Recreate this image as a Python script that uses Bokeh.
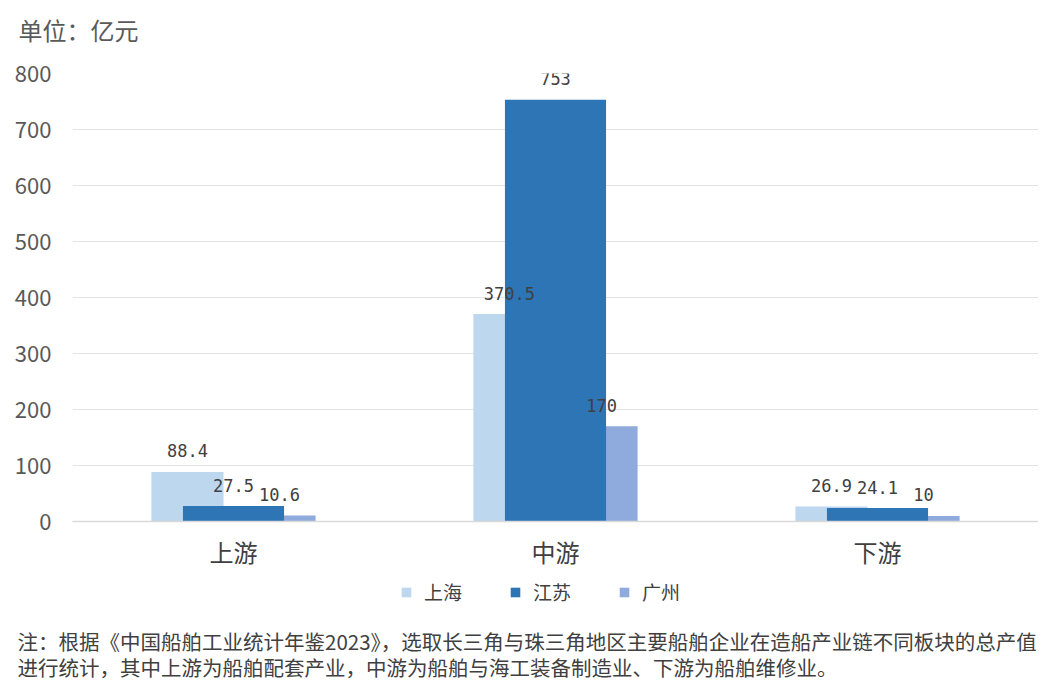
from bokeh.plotting import figure
from bokeh.models import (ColumnDataSource, FactorRange, Range1d, Legend, LegendItem,
                          FixedTicker, Label)
from bokeh.layouts import column
from bokeh.transform import dodge
from bokeh.core.properties import value
from bokeh.embed import file_html
from bokeh.resources import INLINE

# ---- data ----
categories = ["上游", "中游", "下游"]
series_names = ["上海", "江苏", "广州"]
shanghai = [88.4, 370.5, 26.9]
jiangsu = [27.5, 753, 24.1]
guangzhou = [10.6, 170, 10]
y_ticks = [0, 100, 200, 300, 400, 500, 600, 700, 800]
unit_text = "单位：亿元"
note_line1 = "注：根据《中国船舶工业统计年鉴2023》，选取长三角与珠三角地区主要船舶企业在造船产业链不同板块的总产值"
note_line2 = "进行统计，其中上游为船舶配套产业，中游为船舶与海工装备制造业、下游为船舶维修业。"

colors = ["#BDD7EE", "#2E75B6", "#8FAADC"]
FONT = "Noto Sans CJK SC"
W = 1038
LEFT = 72
HEAD_H = 55
MAIN_H = 516
FOOT_H = 115


def fmt(v):
    return f"{v:g}"


def no_align(fig):
    if "frame_align" in fig.properties():
        fig.frame_align = False


def blank(h):
    # full-canvas frame: x data units equal page pixels
    fig = figure(width=W, height=h, x_range=Range1d(0, W), y_range=Range1d(0, h),
                 output_backend="svg", toolbar_location=None,
                 x_axis_location=None, y_axis_location=None,
                 min_border=0, min_border_left=0, min_border_right=0,
                 min_border_top=0, min_border_bottom=0)
    fig.grid.visible = False
    fig.outline_line_color = None
    fig.background_fill_color = "white"
    fig.border_fill_color = "white"
    no_align(fig)
    return fig


# ---- header ----
head = blank(HEAD_H)
head.add_layout(Label(x=18, y=HEAD_H - 29, text=unit_text, text_font=FONT,
                      text_font_size="24px", text_color="#595959",
                      text_baseline="middle", text_align="left"))

# ---- main chart ----
src = ColumnDataSource(dict(
    cat=categories,
    sh=shanghai, js=jiangsu, gz=guangzhou,
    sh_t=[fmt(v) for v in shanghai],
    js_t=[fmt(v) for v in jiangsu],
    gz_t=[fmt(v) for v in guangzhou],
))

p = figure(
    width=W, height=MAIN_H,
    x_range=FactorRange(*categories, range_padding=0),
    y_range=Range1d(0, 800),
    output_backend="svg", toolbar_location=None,
    min_border_left=LEFT, min_border_right=0, min_border_top=18, min_border_bottom=50,
)
no_align(p)
p.outline_line_color = None
p.background_fill_color = "white"
p.border_fill_color = "white"

off = 0.143
r_sh = p.vbar(x=dodge("cat", -off, range=p.x_range), top="sh", width=0.224, source=src,
              fill_color=colors[0], line_color=None)
r_gz = p.vbar(x=dodge("cat", off, range=p.x_range), top="gz", width=0.224, source=src,
              fill_color=colors[2], line_color=None)
r_js = p.vbar(x=dodge("cat", 0, range=p.x_range), top="js", width=0.314, source=src,
              fill_color=colors[1], line_color=None)

lab_kw = dict(source=src, text_font=value("DejaVu Sans Mono"), text_font_size="17px",
              text_color="#404040", text_align="center", text_baseline="alphabetic", y_offset=-21)
p.text(x=dodge("cat", -off, range=p.x_range), y="sh", text="sh_t", **lab_kw)
p.text(x=dodge("cat", 0, range=p.x_range), y="js", text="js_t", **lab_kw)
p.text(x=dodge("cat", off, range=p.x_range), y="gz", text="gz_t", **lab_kw)

p.yaxis.ticker = FixedTicker(ticks=y_ticks)
p.yaxis.axis_line_color = None
p.yaxis.major_tick_line_color = None
p.yaxis.minor_tick_line_color = None
p.yaxis.major_label_text_font = FONT
p.yaxis.major_label_text_font_size = "22px"
p.yaxis.major_label_text_color = "#595959"
p.yaxis.major_label_standoff = 15

p.xaxis.axis_line_color = "#D9D9D9"
p.xaxis.axis_line_width = 1.5
p.xaxis.major_tick_line_color = None
p.xaxis.minor_tick_line_color = None
p.xaxis.major_label_text_font = FONT
p.xaxis.major_label_text_font_size = "24px"
p.xaxis.major_label_text_color = "#404040"
p.xaxis.major_label_standoff = 6

p.xgrid.grid_line_color = None
p.ygrid.grid_line_color = "#E3E3E3"
p.ygrid.ticker = FixedTicker(ticks=y_ticks)

# ---- footer: legend and note ----
f = blank(FOOT_H)
# legend swatches (placed outside the visible range; only their legend glyphs show)
leg_r = [f.vbar(x=[-1000], top=[0], width=1, fill_color=c, line_color=None) for c in colors]
legend = Legend(items=[LegendItem(label=n, renderers=[r]) for n, r in zip(series_names, leg_r)],
                orientation="horizontal", location=(400, 81),
                label_text_font=FONT, label_text_font_size="19px", label_text_color="#404040",
                glyph_width=12, glyph_height=12, label_standoff=12, spacing=47,
                border_line_color=None, background_fill_alpha=0, padding=4, margin=0)
f.add_layout(legend, "center")

note_kw = dict(x_units="data", y_units="data", text_font=FONT, text_font_size="20.5px",
               text_color="#404040", text_baseline="middle", text_align="left")
f.add_layout(Label(x=17, y=FOOT_H - 69, text=note_line1, **note_kw))
f.add_layout(Label(x=17, y=FOOT_H - 95, text=note_line2, **note_kw))

layout = column(head, p, f, spacing=0)
open("out.html", "w").write(file_html(layout, INLINE))
